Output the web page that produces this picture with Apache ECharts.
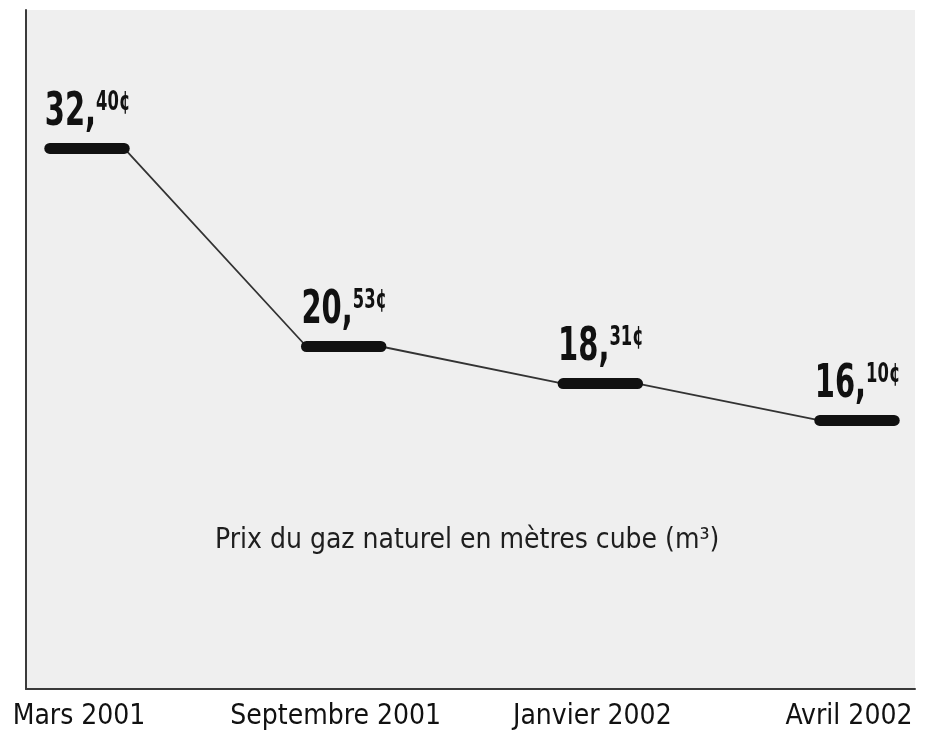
<!DOCTYPE html>
<html>
<head>
<meta charset="utf-8">
<script src="https://cdn.jsdelivr.net/npm/echarts@6/dist/echarts.min.js"></script>
<style>
  html, body { margin: 0; padding: 0; background: #ffffff; }
  #chart { width: 933px; height: 740px; }
</style>
</head>
<body>
<div id="chart"></div>
<script>
// ---- data ----
const categories = ['Mars 2001', 'Septembre 2001', 'Janvier 2002', 'Avril 2002'];
const prices = [32.40, 20.53, 18.31, 16.10];
const titleText = 'Prix du gaz naturel en mètres cube (m³)';

// ---- styling constants ----
const HALF = 0.145;               // half length of each price bar, in category units
const FONT = '"DejaVu Sans Condensed", "Liberation Sans Narrow", sans-serif';

const connectorData = [];
prices.forEach((v, i) => {
  connectorData.push([i - HALF, v]);
  connectorData.push([i + HALF, v]);
});
const barData = prices.map((v, i) => [i, v]);

function splitPrice(v) {
  const s = v.toFixed(2).split('.');
  return [s[0] + ',', s[1] + '¢'];
}

const chart = echarts.init(document.getElementById('chart'), null, { renderer: 'canvas' });

chart.setOption({
  backgroundColor: '#ffffff',
  animation: false,
  title: {
    text: titleText,
    left: 210,
    top: 522,
    textStyle: { fontFamily: FONT, fontSize: 28, fontWeight: 'normal', color: '#1e1e1e' }
  },
  grid: {
    left: 26, right: 18, top: 10, bottom: 51,
    outerBoundsMode: 'none',
    containLabel: false,
    show: true, backgroundColor: '#efefef', borderWidth: 0
  },
  xAxis: {
    type: 'value',
    min: -0.2377,
    max: 3.226,
    axisLine: { show: true, onZero: false, lineStyle: { color: '#3a3a3a', width: 2 } },
    axisTick: { show: false },
    splitLine: { show: false },
    axisLabel: {
      customValues: [0, 1, 2, 3],
      formatter: v => categories[Math.round(v)],
      fontFamily: FONT,
      fontSize: 28,
      color: '#111',
      margin: 14,
      padding: [0, 16, 0, 0]
    }
  },
  yAxis: {
    type: 'value',
    min: 0,
    max: 40.7,
    axisLine: { show: true, onZero: false, lineStyle: { color: '#3a3a3a', width: 2 } },
    axisTick: { show: false },
    splitLine: { show: false },
    axisLabel: { show: false }
  },
  series: [
    {
      type: 'line',
      data: connectorData,
      symbol: 'none',
      lineStyle: { color: '#333', width: 1.8 },
      z: 2
    },
    {
      type: 'custom',
      data: barData,
      z: 3,
      renderItem: function (params, api) {
        const x = api.value(0), v = api.value(1);
        const p1 = api.coord([x - HALF, v]);
        const p2 = api.coord([x + HALF, v]);
        const parts = splitPrice(v);
        return {
          type: 'group',
          children: [
            {
              type: 'line',
              shape: { x1: p1[0], y1: p1[1], x2: p2[0], y2: p2[1] },
              style: { stroke: '#111', lineWidth: 11, lineCap: 'round' }
            },
            {
              type: 'text',
              x: p1[0] - 5,
              y: p1[1] - 12,
              scaleX: 0.7,
              originX: 0,
              originY: 0,
              style: {
                text: '{a|' + parts[0] + '}{b|' + parts[1] + '}',
                align: 'left',
                verticalAlign: 'bottom',
                rich: {
                  a: { fontFamily: FONT, fontWeight: 'bold', fontSize: 46, lineHeight: 46, fill: '#111' },
                  b: { fontFamily: FONT, fontWeight: 'bold', fontSize: 26, lineHeight: 26, verticalAlign: 'top', fill: '#111' }
                }
              }
            }
          ]
        };
      }
    }
  ]
});
</script>
</body>
</html>
